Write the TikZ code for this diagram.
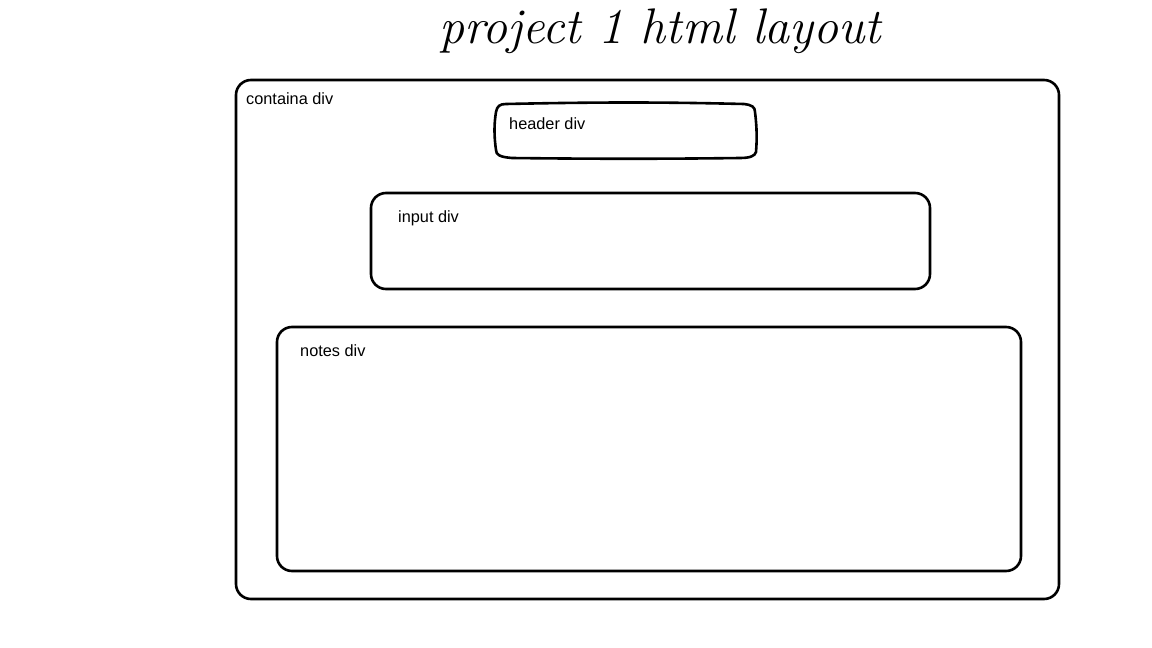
\documentclass[tikz,border=0pt]{standalone}
\usepackage{fontspec}
\setmainfont{Liberation Sans}
\newfontfamily\titlefont{Latin Modern Roman}
\begin{document}
\begin{tikzpicture}[x=1pt,y=-1pt,
  divbox/.style={draw=black,line width=2.6pt,rounded corners=15pt,inner sep=0pt},
  divlabel/.style={anchor=west,inner sep=0pt,font=\fontsize{16.3}{19}\selectfont},
  title/.style={inner sep=0pt,anchor=base,font=\titlefont\itshape\fontsize{50}{56}\selectfont}]
  \useasboundingbox[fill=white] (0,0) rectangle (1152,648);

  % heading
  \node[title] (heading) at (660,43) {project 1 html layout};

  % outer container
  \draw[divbox] (236,80) rectangle (1059,599);
  \node[divlabel] (containa) at (246,99) {containa div};

  % header block, with slightly bowed sides
  \draw[line width=2.6pt,line join=round]
    (506,104) .. controls (600,102) and (660,102) .. (744,104)
    .. controls (752,105) and (755,107) .. (755,112)
    .. controls (757,128) and (757,140) .. (756,152)
    .. controls (755,156) and (750,158) .. (740,158)
    .. controls (660,159) and (600,159) .. (512,158)
    .. controls (500,157) and (496,155) .. (496,150)
    .. controls (494,136) and (494,124) .. (496,112)
    .. controls (497,106) and (500,104) .. (506,104) -- cycle;
  \node[divlabel] (header) at (509,124) {header div};

  % input block
  \draw[divbox] (371,193) rectangle (930,289);
  \node[divlabel] (input) at (398,218) {input div};

  % notes block
  \draw[divbox] (277,327) rectangle (1021,571);
  \node[divlabel] (notes) at (300,351) {notes div};
\end{tikzpicture}
\end{document}
